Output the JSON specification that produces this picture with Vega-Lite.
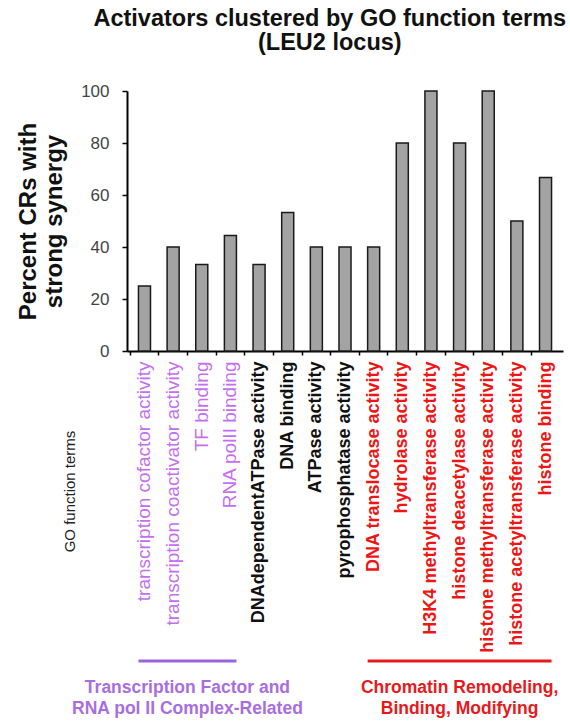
{
  "$schema": "https://vega.github.io/schema/vega-lite/v6.json",
  "padding": {"left": 16, "top": 7, "right": 0, "bottom": 0},
  "background": "white",
  "config": {"view": {"stroke": null}, "font": "Liberation Sans"},
  "title": {
    "text": "Activators clustered by GO function terms",
    "subtitle": "(LEU2 locus)",
    "fontSize": 23.5, "subtitleFontSize": 23.5,
    "fontWeight": "bold", "subtitleFontWeight": "bold",
    "color": "#111", "subtitleColor": "#111",
    "anchor": "middle", "offset": 28, "subtitlePadding": 0, "dx": 40
  },
  "datasets": {
    "bars": [
      {"term": "transcription cofactor activity", "pct": 25, "group": "TF"},
      {"term": "transcription coactivator activity", "pct": 40, "group": "TF"},
      {"term": "TF binding", "pct": 33.3, "group": "TF"},
      {"term": "RNA polII binding", "pct": 44.4, "group": "TF"},
      {"term": "DNAdependentATPase activity", "pct": 33.3, "group": "other"},
      {"term": "DNA binding", "pct": 53.3, "group": "other"},
      {"term": "ATPase activity", "pct": 40, "group": "other"},
      {"term": "pyrophosphatase activity", "pct": 40, "group": "other"},
      {"term": "DNA translocase activity", "pct": 40, "group": "CR"},
      {"term": "hydrolase activity", "pct": 80, "group": "CR"},
      {"term": "H3K4 methyltransferase activity", "pct": 100, "group": "CR"},
      {"term": "histone deacetylase activity", "pct": 80, "group": "CR"},
      {"term": "histone methyltransferase activity", "pct": 100, "group": "CR"},
      {"term": "histone acetyltransferase activity", "pct": 50, "group": "CR"},
      {"term": "histone binding", "pct": 66.7, "group": "CR"}
    ],
    "groups": [
      {"group": "TF", "start": "transcription cofactor activity", "end": "RNA polII binding", "mid": "transcription coactivator activity", "label": ["Transcription Factor and", "RNA pol II Complex-Related"]},
      {"group": "CR", "start": "DNA translocase activity", "end": "histone binding", "mid": "histone deacetylase activity", "label": ["Chromatin Remodeling,", "Binding, Modifying"]}
    ]
  },
  "bounds": "flush",
  "spacing": 281,
  "vconcat": [
    {
      "width": 436,
      "height": 260,
      "data": {"name": "bars"},
      "mark": {"type": "bar", "fill": "#a3a3a3", "stroke": "#1a1a1a", "strokeWidth": 1.5},
      "encoding": {
        "x": {
          "field": "term", "type": "nominal",
          "scale": {
            "domain": ["transcription cofactor activity", "transcription coactivator activity", "TF binding", "RNA polII binding", "DNAdependentATPase activity", "DNA binding", "ATPase activity", "pyrophosphatase activity", "DNA translocase activity", "hydrolase activity", "H3K4 methyltransferase activity", "histone deacetylase activity", "histone methyltransferase activity", "histone acetyltransferase activity", "histone binding"],
            "paddingInner": 0.58, "paddingOuter": 0.4
          },
          "axis": {
            "title": "GO function terms",
            "titleAngle": 270, "titleFontSize": 15, "titleFontWeight": "normal", "titleColor": "#222",
            "titleX": -58, "titleY": 140, "titleAlign": "center", "titleBaseline": "middle",
            "labelAngle": 270, "labelLimit": 0, "labelPadding": 6,
            "bandPosition": -0.69,
            "tickSize": 4, "tickColor": "black", "tickWidth": 1.5,
            "domainColor": "black", "domainWidth": 2,
            "labelColor": {
              "condition": [
                {"test": "indexof(['transcription cofactor activity','transcription coactivator activity','TF binding','RNA polII binding'], datum.value) >= 0", "value": "#c46ef0"},
                {"test": "indexof(['DNAdependentATPase activity','DNA binding','ATPase activity','pyrophosphatase activity'], datum.value) >= 0", "value": "#111111"}
              ],
              "value": "#ee1515"
            },
            "labelFontWeight": {
              "condition": {"test": "indexof(['transcription cofactor activity','transcription coactivator activity','TF binding','RNA polII binding'], datum.value) >= 0", "value": "normal"},
              "value": "bold"
            },
            "labelFontSize": {
              "condition": {"test": "indexof(['transcription cofactor activity','transcription coactivator activity','TF binding','RNA polII binding'], datum.value) >= 0", "value": 19},
              "value": 18
            }
          }
        },
        "y": {
          "field": "pct", "type": "quantitative",
          "scale": {"domain": [0, 100]},
          "axis": {
            "title": ["Percent CRs with", "strong synergy"],
            "titleFontSize": 24, "titleFontWeight": "bold", "titleColor": "#111", "titleLineHeight": 26,
            "titlePadding": 14,
            "values": [0, 20, 40, 60, 80, 100],
            "labelFontSize": 17, "labelColor": "#444", "labelPadding": 13,
            "tickSize": 5, "tickColor": "black", "tickWidth": 1.5,
            "domainColor": "black", "domainWidth": 2, "grid": false
          }
        }
      }
    },
    {
      "width": 436,
      "height": 58,
      "data": {"name": "groups"},
      "layer": [
        {
          "mark": {"type": "rule", "strokeWidth": 3},
          "encoding": {
            "x": {
              "field": "start", "type": "nominal", "bandPosition": 0,
              "scale": {
                "domain": ["transcription cofactor activity", "transcription coactivator activity", "TF binding", "RNA polII binding", "DNAdependentATPase activity", "DNA binding", "ATPase activity", "pyrophosphatase activity", "DNA translocase activity", "hydrolase activity", "H3K4 methyltransferase activity", "histone deacetylase activity", "histone methyltransferase activity", "histone acetyltransferase activity", "histone binding"],
                "paddingInner": 0.58, "paddingOuter": 0.4
              },
              "axis": null
            },
            "x2": {"field": "end", "bandPosition": 1},
            "color": {"field": "group", "type": "nominal", "scale": {"domain": ["TF", "CR"], "range": ["#9b63dd", "#e8191b"]}, "legend": null}
          }
        },
        {
          "transform": [{"filter": "datum.group == 'TF'"}],
          "mark": {"type": "text", "fontSize": 17.5, "fontWeight": "bold", "baseline": "top", "dy": 18, "lineHeight": 21, "color": "#a86ee0"},
          "encoding": {
            "x": {"field": "mid", "type": "nominal", "bandPosition": 1.69},
            "text": {"field": "label"}
          }
        },
        {
          "transform": [{"filter": "datum.group == 'CR'"}],
          "mark": {"type": "text", "fontSize": 17.5, "fontWeight": "bold", "baseline": "top", "dy": 18, "lineHeight": 21, "color": "#e8191b"},
          "encoding": {
            "x": {"field": "mid", "type": "nominal", "bandPosition": 0.5},
            "text": {"field": "label"}
          }
        }
      ]
    }
  ]
}
